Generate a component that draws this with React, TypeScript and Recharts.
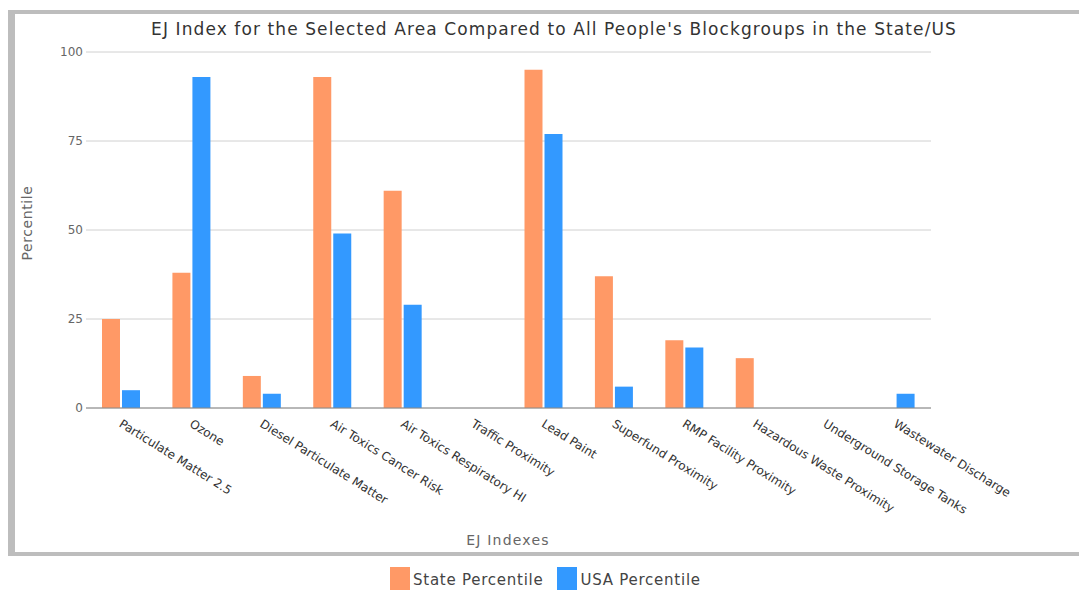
import React from 'react'
import { Bar, BarChart, CartesianGrid, Legend, XAxis, YAxis } from 'recharts'

const categories = [
  'Particulate Matter 2.5',
  'Ozone',
  'Diesel Particulate Matter',
  'Air Toxics Cancer Risk',
  'Air Toxics Respiratory HI',
  'Traffic Proximity',
  'Lead Paint',
  'Superfund Proximity',
  'RMP Facility Proximity',
  'Hazardous Waste Proximity',
  'Underground Storage Tanks',
  'Wastewater Discharge',
]
const statePercentile = [25, 38, 9, 93, 61, 0, 95, 37, 19, 14, 0, 0]
const usaPercentile = [5, 93, 4, 49, 29, 0, 77, 6, 17, 0, 0, 4]
const yTicks = [0, 25, 50, 75, 100]

const data = categories.map((name, i) => ({
  name,
  state: statePercentile[i],
  usa: usaPercentile[i],
}))

const FONT = '"DejaVu Sans", Verdana, sans-serif'
const BORDER = '#bdbdbd'

function CategoryTick({ x, y, payload }: any) {
  const tx = x - 3
  const ty = y + 10
  return (
    <text
      x={tx}
      y={ty}
      transform={`rotate(32, ${tx}, ${ty})`}
      textAnchor="start"
      fontSize={12}
      fill="#333"
    >
      {payload.value}
    </text>
  )
}

function LegendContent({ payload }: any) {
  return (
    <div style={{ display: 'flex', alignItems: 'flex-start', height: 25, fontSize: 15, letterSpacing: 0.75, color: '#444' }}>
      {(payload || []).map((entry: any) => (
        <div key={entry.value} style={{ display: 'flex', alignItems: 'flex-start', marginRight: 14 }}>
          <span style={{ display: 'inline-block', width: 20, height: 25, background: entry.color, marginRight: 3 }} />
          <span style={{ paddingTop: 4, lineHeight: '18px' }}>{entry.value}</span>
        </div>
      ))}
    </div>
  )
}

export default function App() {
  return (
    <div style={{ position: 'relative', width: 1079, height: 582, fontFamily: FONT }}>
      <style>{'html, body { overflow: hidden; }'}</style>
      {/* frame: open on the right, runs past the window edge */}
      <div style={{ position: 'absolute', left: 0, top: 2, width: 7, height: 546, background: BORDER }} />
      <div style={{ position: 'absolute', left: 0, top: 2, width: 1300, height: 4, background: BORDER }} />
      <div style={{ position: 'absolute', left: 0, top: 544, width: 1300, height: 4, background: BORDER }} />

      <div
        style={{
          position: 'absolute',
          left: 46,
          width: 1000,
          top: 13,
          lineHeight: '17px',
          fontSize: 17,
          letterSpacing: 1.1,
          color: '#333',
          textAlign: 'center',
        }}
      >
        EJ Index for the Selected Area Compared to All People's Blockgroups in the State/US
      </div>

      <div
        style={{
          position: 'absolute',
          left: 19 - 50,
          top: 215 - 8,
          width: 100,
          lineHeight: '16px',
          fontSize: 14,
          letterSpacing: 0.6,
          color: '#666',
          textAlign: 'center',
          transform: 'rotate(-90deg)',
        }}
      >
        Percentile
      </div>

      <div
        style={{
          position: 'absolute',
          left: 500 - 100,
          top: 524,
          width: 200,
          lineHeight: '16px',
          fontSize: 14,
          letterSpacing: 1.2,
          color: '#666',
          textAlign: 'center',
        }}
      >
        EJ Indexes
      </div>

      <div style={{ position: 'absolute', left: 0, top: 0 }}>
        <BarChart
          width={1079}
          height={582}
          data={data}
          margin={{ top: 44, right: 156, left: 0, bottom: 0 }}
          barGap={2}
        >
          <CartesianGrid vertical={false} stroke="#d0d0d0" />
          <XAxis
            dataKey="name"
            interval={0}
            height={157}
            tickLine={false}
            axisLine={{ stroke: '#888' }}
            tick={<CategoryTick />}
          />
          <YAxis
            width={78}
            domain={[0, 100]}
            ticks={yTicks}
            tickLine={false}
            axisLine={false}
            tickMargin={0}
            tick={{ fontSize: 12, fill: '#666', dx: 3 }}
          />
          <Bar dataKey="state" name="State Percentile" fill="#ff9966" barSize={18} isAnimationActive={false} />
          <Bar dataKey="usa" name="USA Percentile" fill="#3399ff" barSize={18} isAnimationActive={false} />
          <Legend
            verticalAlign="bottom"
            align="left"
            height={25}
            wrapperStyle={{ left: 382, top: 559, width: 'auto' }}
            content={<LegendContent />}
          />
        </BarChart>
      </div>
    </div>
  )
}
